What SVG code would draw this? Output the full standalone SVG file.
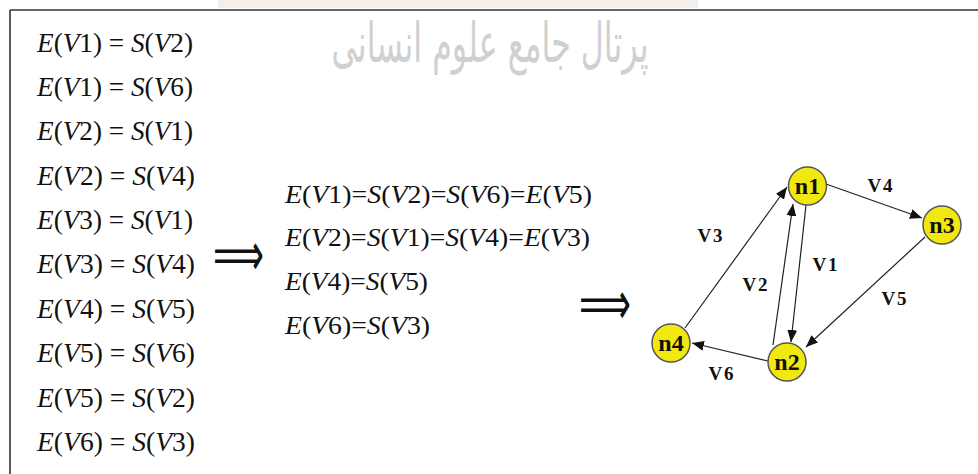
<svg xmlns="http://www.w3.org/2000/svg" width="978" height="474" viewBox="0 0 978 474">
<defs>
<style>
.eq{font-family:"Liberation Serif","Times New Roman",Tinos,serif;font-size:28px;fill:#111}
.mid{font-size:26px}
.i{font-style:italic}
.arr{font-family:"DejaVu Sans",sans-serif;font-size:34px;fill:#111}
.node circle{fill:#f0e80e;stroke:#555;stroke-width:1.5}
.node text{font-family:"Liberation Serif","Times New Roman",serif;font-weight:bold;font-size:24px;fill:#111;text-anchor:middle}
.edge{stroke:#222;stroke-width:1.2;fill:none;marker-end:url(#ah)}
.lbl{font-family:"Liberation Serif","Times New Roman",serif;font-weight:bold;font-size:19px;letter-spacing:2px;fill:#111;text-anchor:middle}
.wm{font-family:"DejaVu Sans",sans-serif;font-size:44px;fill:#d0d0d0}
</style>
<marker id="ah" viewBox="0 0 12 10" refX="12" refY="5" markerWidth="12" markerHeight="10" markerUnits="userSpaceOnUse" orient="auto">
<path d="M0,0 L12,5 L0,10 Z" fill="#111"/>
</marker>
</defs>
<rect width="978" height="474" fill="#fff"/>
<rect x="218" y="0" width="480" height="8" fill="#f4efeb"/>
<text class="wm" text-anchor="middle" transform="translate(490,62) scale(0.72,1.25)">پرتال جامع علوم انسانی</text>
<path d="M10,10 H978 M10,10 V474" stroke="#333" stroke-width="1.6" fill="none"/>

<g id="left-equations">
<text class="eq" x="37" y="52" textLength="156" lengthAdjust="spacingAndGlyphs"><tspan class="i">E</tspan>(<tspan class="i">V</tspan>1) = <tspan class="i">S</tspan>(<tspan class="i">V</tspan>2)</text>
<text class="eq" x="37" y="96" textLength="156" lengthAdjust="spacingAndGlyphs"><tspan class="i">E</tspan>(<tspan class="i">V</tspan>1) = <tspan class="i">S</tspan>(<tspan class="i">V</tspan>6)</text>
<text class="eq" x="37" y="140" textLength="156" lengthAdjust="spacingAndGlyphs"><tspan class="i">E</tspan>(<tspan class="i">V</tspan>2) = <tspan class="i">S</tspan>(<tspan class="i">V</tspan>1)</text>
<text class="eq" x="37" y="185" textLength="158" lengthAdjust="spacingAndGlyphs"><tspan class="i">E</tspan>(<tspan class="i">V</tspan>2) = <tspan class="i">S</tspan>(<tspan class="i">V</tspan>4)</text>
<text class="eq" x="37" y="229" textLength="156" lengthAdjust="spacingAndGlyphs"><tspan class="i">E</tspan>(<tspan class="i">V</tspan>3) = <tspan class="i">S</tspan>(<tspan class="i">V</tspan>1)</text>
<text class="eq" x="37" y="273" textLength="158" lengthAdjust="spacingAndGlyphs"><tspan class="i">E</tspan>(<tspan class="i">V</tspan>3) = <tspan class="i">S</tspan>(<tspan class="i">V</tspan>4)</text>
<text class="eq" x="37" y="318" textLength="158" lengthAdjust="spacingAndGlyphs"><tspan class="i">E</tspan>(<tspan class="i">V</tspan>4) = <tspan class="i">S</tspan>(<tspan class="i">V</tspan>5)</text>
<text class="eq" x="37" y="362" textLength="158" lengthAdjust="spacingAndGlyphs"><tspan class="i">E</tspan>(<tspan class="i">V</tspan>5) = <tspan class="i">S</tspan>(<tspan class="i">V</tspan>6)</text>
<text class="eq" x="37" y="407" textLength="158" lengthAdjust="spacingAndGlyphs"><tspan class="i">E</tspan>(<tspan class="i">V</tspan>5) = <tspan class="i">S</tspan>(<tspan class="i">V</tspan>2)</text>
<text class="eq" x="37" y="451" textLength="158" lengthAdjust="spacingAndGlyphs"><tspan class="i">E</tspan>(<tspan class="i">V</tspan>6) = <tspan class="i">S</tspan>(<tspan class="i">V</tspan>3)</text>
</g>

<text id="arrow1" class="arr" x="0" y="0" transform="translate(213,275) scale(1,1.76)" textLength="51" lengthAdjust="spacingAndGlyphs">⟹</text>

<g id="middle-equations">
<text class="eq mid" x="285" y="203" textLength="307" lengthAdjust="spacingAndGlyphs"><tspan class="i">E</tspan>(<tspan class="i">V</tspan>1)=<tspan class="i">S</tspan>(<tspan class="i">V</tspan>2)=<tspan class="i">S</tspan>(<tspan class="i">V</tspan>6)=<tspan class="i">E</tspan>(<tspan class="i">V</tspan>5)</text>
<text class="eq mid" x="285" y="246" textLength="305" lengthAdjust="spacingAndGlyphs"><tspan class="i">E</tspan>(<tspan class="i">V</tspan>2)=<tspan class="i">S</tspan>(<tspan class="i">V</tspan>1)=<tspan class="i">S</tspan>(<tspan class="i">V</tspan>4)=<tspan class="i">E</tspan>(<tspan class="i">V</tspan>3)</text>
<text class="eq mid" x="285" y="290" textLength="143" lengthAdjust="spacingAndGlyphs"><tspan class="i">E</tspan>(<tspan class="i">V</tspan>4)=<tspan class="i">S</tspan>(<tspan class="i">V</tspan>5)</text>
<text class="eq mid" x="285" y="334" textLength="145" lengthAdjust="spacingAndGlyphs"><tspan class="i">E</tspan>(<tspan class="i">V</tspan>6)=<tspan class="i">S</tspan>(<tspan class="i">V</tspan>3)</text>
</g>

<text id="arrow2" class="arr" x="0" y="0" transform="translate(579,324) scale(1,1.76)" textLength="52" lengthAdjust="spacingAndGlyphs">⟹</text>

<g id="connectors">
<line class="edge" x1="806" y1="205" x2="791" y2="342"/>
<line class="edge" x1="773" y1="345" x2="793" y2="204"/>
<line class="edge" x1="685" y1="328" x2="787" y2="187"/>
<line class="edge" x1="826" y1="184" x2="922" y2="218"/>
<line class="edge" x1="925" y1="237" x2="806" y2="347"/>
<line class="edge" x1="768" y1="361" x2="692" y2="343"/>
<text class="lbl" x="826" y="271">V1</text>
<text class="lbl" x="756" y="291">V2</text>
<text class="lbl" x="711" y="242">V3</text>
<text class="lbl" x="881" y="192">V4</text>
<text class="lbl" x="895" y="305">V5</text>
<text class="lbl" x="722" y="380">V6</text>
</g>

<g id="n1" class="node"><circle cx="807.5" cy="186" r="19"/><text x="807.5" y="194">n1</text></g>
<g id="n2" class="node"><circle cx="787" cy="362" r="19"/><text x="787" y="370">n2</text></g>
<g id="n3" class="node"><circle cx="942" cy="225" r="19"/><text x="942" y="233">n3</text></g>
<g id="n4" class="node"><circle cx="671" cy="343" r="19"/><text x="671" y="351">n4</text></g>
</svg>
